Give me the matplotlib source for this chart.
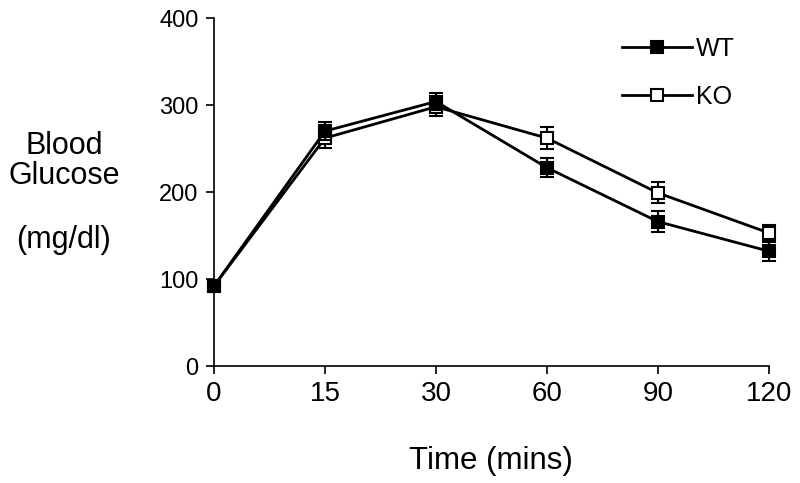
import numpy as np
import matplotlib
matplotlib.use('Agg')
import matplotlib.pyplot as plt
from matplotlib.lines import Line2D

plt.rcParams['font.family'] = ['Liberation Sans', 'DejaVu Sans']

times = ['0', '15', '30', '60', '90', '120']
wt_mean = [92, 270, 304, 228, 166, 132]
wt_err = [3, 10, 10, 11, 12, 11]
ko_mean = [92, 262, 298, 262, 199, 153]
ko_err = [3, 11, 11, 13, 12, 9]

x = np.arange(len(times))

fig = plt.figure(figsize=(8, 4.83), dpi=100)
ax = fig.add_axes([0.2675, 0.2422, 0.6935, 0.7205])

ax.errorbar(x, ko_mean, yerr=ko_err, color='black', lw=2, marker='s', ms=8.5,
            mfc='white', mec='black', mew=1.5, capsize=5, capthick=1.5,
            elinewidth=1.5, clip_on=False, zorder=3)
ax.errorbar(x, wt_mean, yerr=wt_err, color='black', lw=2, marker='s', ms=8.5,
            mfc='black', mec='black', mew=1.5, capsize=5, capthick=1.5,
            elinewidth=1.5, clip_on=False, zorder=4)

ax.set_xlim(0, 5)
ax.set_ylim(0, 400)
ax.set_xticks(x)
ax.set_xticklabels(times, fontsize=20)
ax.set_yticks([0, 100, 200, 300, 400])
ax.tick_params(axis='y', labelsize=17, length=6, width=1.2, direction='out', pad=5)
ax.tick_params(axis='x', length=6, width=1.2, direction='out', pad=5)
for s in ['top', 'right']:
    ax.spines[s].set_visible(False)
for s in ['left', 'bottom']:
    ax.spines[s].set_linewidth(1.2)

ax.set_xlabel('Time (mins)', fontsize=22.5, labelpad=28)
fig.text(0.08, 0.667, 'Blood\nGlucose', fontsize=22, ha='center', va='center',
         linespacing=1.0)
fig.text(0.08, 0.503, '(mg/dl)', fontsize=22, ha='center', va='center')

handles = [Line2D([], [], color='black', lw=2, marker='s', ms=8.5, mfc='black', mec='black', mew=1.5),
           Line2D([], [], color='black', lw=2, marker='s', ms=8.5, mfc='white', mec='black', mew=1.5)]
ax.legend(handles, ['WT', 'KO'], loc='upper left', bbox_to_anchor=(0.735, 0.945),
          frameon=False, fontsize=18, handlelength=2.8, handletextpad=0.15,
          labelspacing=0.95, borderpad=0, borderaxespad=0)

plt.savefig('out.png', dpi=100)
